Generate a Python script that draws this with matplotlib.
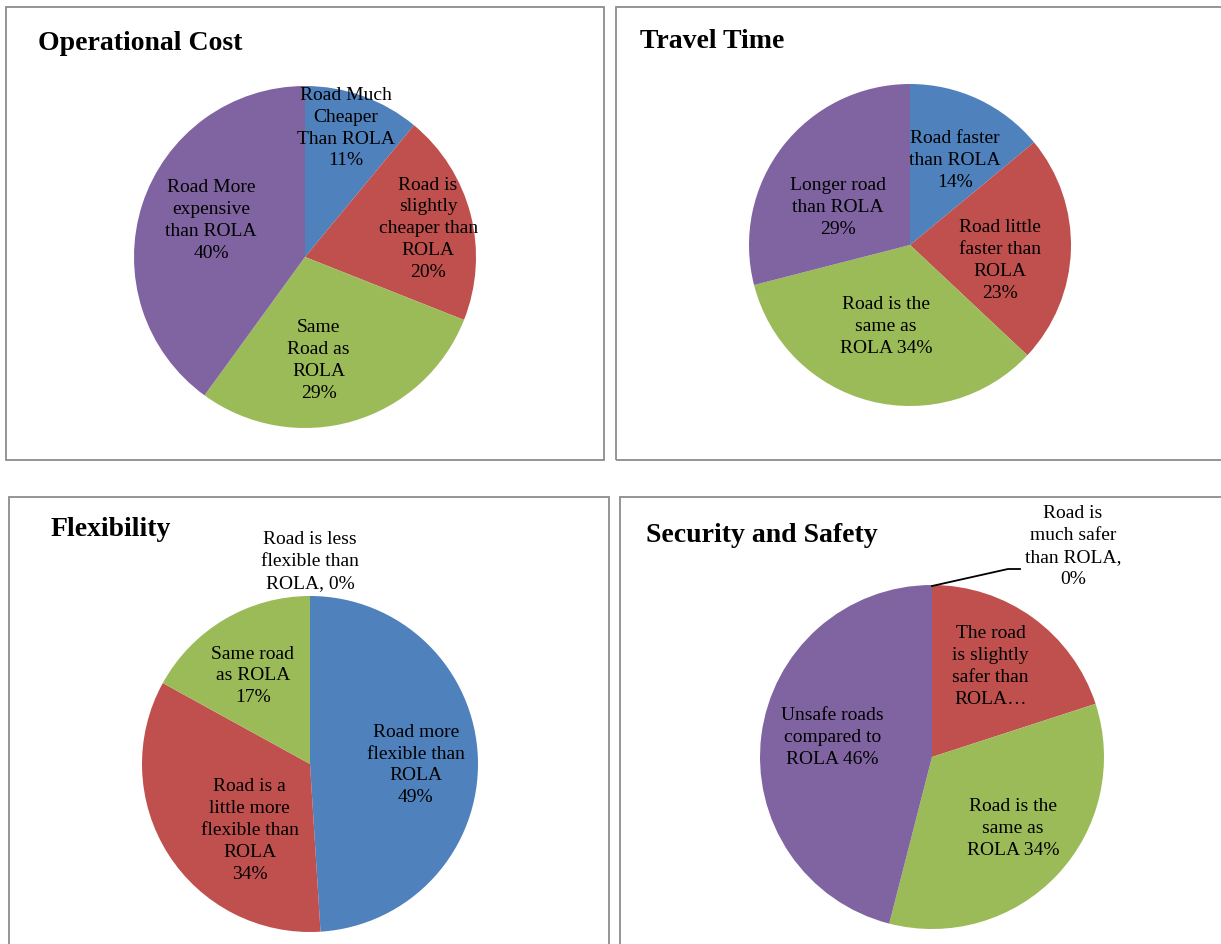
import numpy as np
import matplotlib.pyplot as plt
from matplotlib.patches import Rectangle

plt.rcParams['font.family'] = ['Liberation Serif', 'DejaVu Serif']

colors = ['#4F81BD', '#C0504D', '#9BBB59', '#8064A2']

# ---- data ----
cost_labels = ['Road Much\nCheaper\nThan ROLA', 'Road is\nslightly\ncheaper than\nROLA',
               'Same\nRoad as\nROLA', 'Road More\nexpensive\nthan ROLA']
cost_values = [11, 20, 29, 40]

time_labels = ['Road faster\nthan ROLA', 'Road little\nfaster than\nROLA',
               'Road is the\nsame as\nROLA', 'Longer road\nthan ROLA']
time_values = [14, 23, 34, 29]

flex_labels = ['Road more\nflexible than\nROLA', 'Road is a\nlittle more\nflexible than\nROLA',
               'Same road\nas ROLA', 'Road is less\nflexible than\nROLA,']
flex_values = [49, 34, 17, 0]

safe_labels = ['Road is\nmuch safer\nthan ROLA,', 'The road\nis slightly\nsafer than\nROLA…',
               'Road is the\nsame as\nROLA', 'Unsafe roads\ncompared to\nROLA']
safe_values = [0, 20, 34, 46]

# how the value is joined to the category text (None = value hidden)
cost_fmt = ['{}\n{}%', '{}\n{}%', '{}\n{}%', '{}\n{}%']
time_fmt = ['{}\n{}%', '{}\n{}%', '{} {}%', '{}\n{}%']
flex_fmt = ['{}\n{}%', '{}\n{}%', '{}\n{}%', '{} {}%']
safe_fmt = ['{}\n{}%', None, '{} {}%', '{} {}%']

W, H = 1221, 945

# panel layout in pixels: frame box, pie centre, pie radius, title position, label offsets
panels = [
    dict(title='Operational Cost', labels=cost_labels, values=cost_values, fmt=cost_fmt,
         frame=(6, 8, 604, 461), center=(305, 258), radius=171, title_xy=(38, 43),
         offsets=[(0.24, 0.76), (0.72, 0.17), (0.08, -0.60), (-0.55, 0.22)]),
    dict(title='Travel Time', labels=time_labels, values=time_values, fmt=time_fmt,
         frame=(616, 8, 1225, 461), center=(910, 246), radius=161, title_xy=(640, 42),
         offsets=[(0.28, 0.53), (0.56, -0.09), (-0.15, -0.50), (-0.45, 0.24)]),
    dict(title='Flexibility', labels=flex_labels, values=flex_values, fmt=flex_fmt,
         frame=(9, 498, 609, 950), center=(310, 765), radius=168, title_xy=(51, 530),
         offsets=[(0.63, 0.0), (-0.36, -0.39), (-0.34, 0.53), (0.0, 1.21)]),
    dict(title='Security and Safety', labels=safe_labels, values=safe_values, fmt=safe_fmt,
         frame=(620, 498, 1225, 950), center=(932, 758), radius=172, title_xy=(646, 536),
         offsets=[(0.82, 1.23), (0.34, 0.53), (0.47, -0.41), (-0.58, 0.12)]),
]

fig = plt.figure(figsize=(W / 100, H / 100), dpi=100)
fig.patch.set_facecolor('white')

for p in panels:
    x0, y0, x1, y1 = p['frame']
    fig.patches.append(Rectangle((x0 / W, 1 - y1 / H), (x1 - x0) / W, (y1 - y0) / H,
                                 transform=fig.transFigure, fill=False,
                                 edgecolor='#8c8c8c', linewidth=1.3))
    fig.text(p['title_xy'][0] / W, 1 - p['title_xy'][1] / H, p['title'],
             fontsize=20, fontweight='bold', ha='left', va='center')

    cx, cy = p['center']
    r = p['radius']
    ax = fig.add_axes([(cx - r) / W, 1 - (cy + r) / H, 2 * r / W, 2 * r / H])
    ax.pie(p['values'], colors=colors, startangle=90, counterclock=False,
           radius=1, wedgeprops=dict(linewidth=0))
    ax.set_xlim(-1, 1)
    ax.set_ylim(-1, 1)
    ax.set_aspect('equal')
    ax.axis('off')

    for lab, val, fmt, (dx, dy) in zip(p['labels'], p['values'], p['fmt'], p['offsets']):
        txt = lab if fmt is None else fmt.format(lab, val)
        ax.text(dx, dy, txt, ha='center', va='center', fontsize=14,
                linespacing=1.38, clip_on=False)

# leader line for the zero slice in the safety chart
fig.lines.append(plt.Line2D([932 / W, 1008 / W, 1020 / W],
                            [1 - 587 / H, 1 - 570 / H, 1 - 570 / H],
                            transform=fig.transFigure, color='black', linewidth=1.3))

fig.savefig('out.png', dpi=100)
